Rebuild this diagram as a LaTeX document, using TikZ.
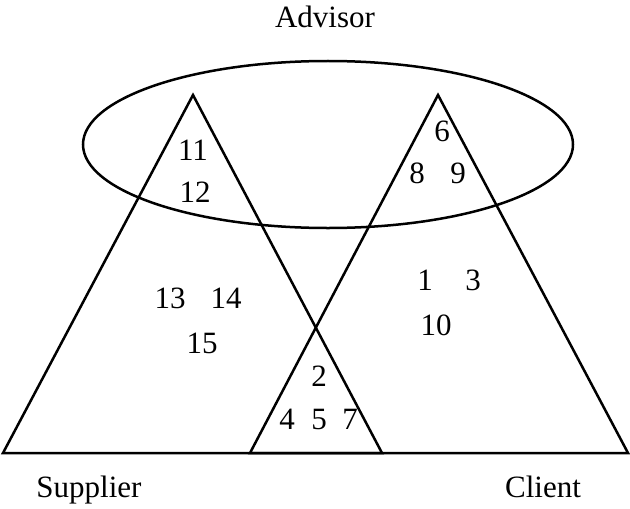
\documentclass[tikz,border=0pt]{standalone}
\usepackage{fontspec}
\setmainfont{Liberation Serif}
\usetikzlibrary{positioning,calc}

\begin{document}
\begin{tikzpicture}[x=0.5pt, y=-0.5pt, line width=1.25pt, line join=miter,
    font=\fontsize{15.5}{18}\selectfont]
    \useasboundingbox (0,0) rectangle (630,508);
    % ---- the three groups
    \coordinate (sA) at (193, 95);
    \coordinate (sL) at (3, 453);
    \coordinate (sR) at (382, 453);
    \coordinate (cA) at (438, 95);
    \coordinate (cL) at (250, 453);
    \coordinate (cR) at (628, 453);
    \draw (sA) -- (sL) -- (sR) -- cycle;
    \draw (cA) -- (cL) -- (cR) -- cycle;
    \coordinate (aC) at (328, 144.5);
    \draw (aC) ellipse [x radius=122.5pt, y radius=41.75pt];
    % ---- names
    \node[anchor=base] (adv) at (325, 28)  {Advisor};
    \node[anchor=base] (sup) at (89, 497)  {Supplier};
    \node[anchor=base] (cli) at (543, 497) {Client};
    % ---- members
    \foreach \n/\x/\y in {11/193/150, 12/195/192, 6/442/131, 8/417/173, 9/458/173,
                          13/170/298, 14/226/298, 15/202/343, 1/425/280, 3/473/280,
                          10/436/325, 2/319/376, 4/287/419, 5/319/419, 7/350/419}
      { \node (m\n) at (\x, \y) {\n}; }
\end{tikzpicture}
\end{document}
